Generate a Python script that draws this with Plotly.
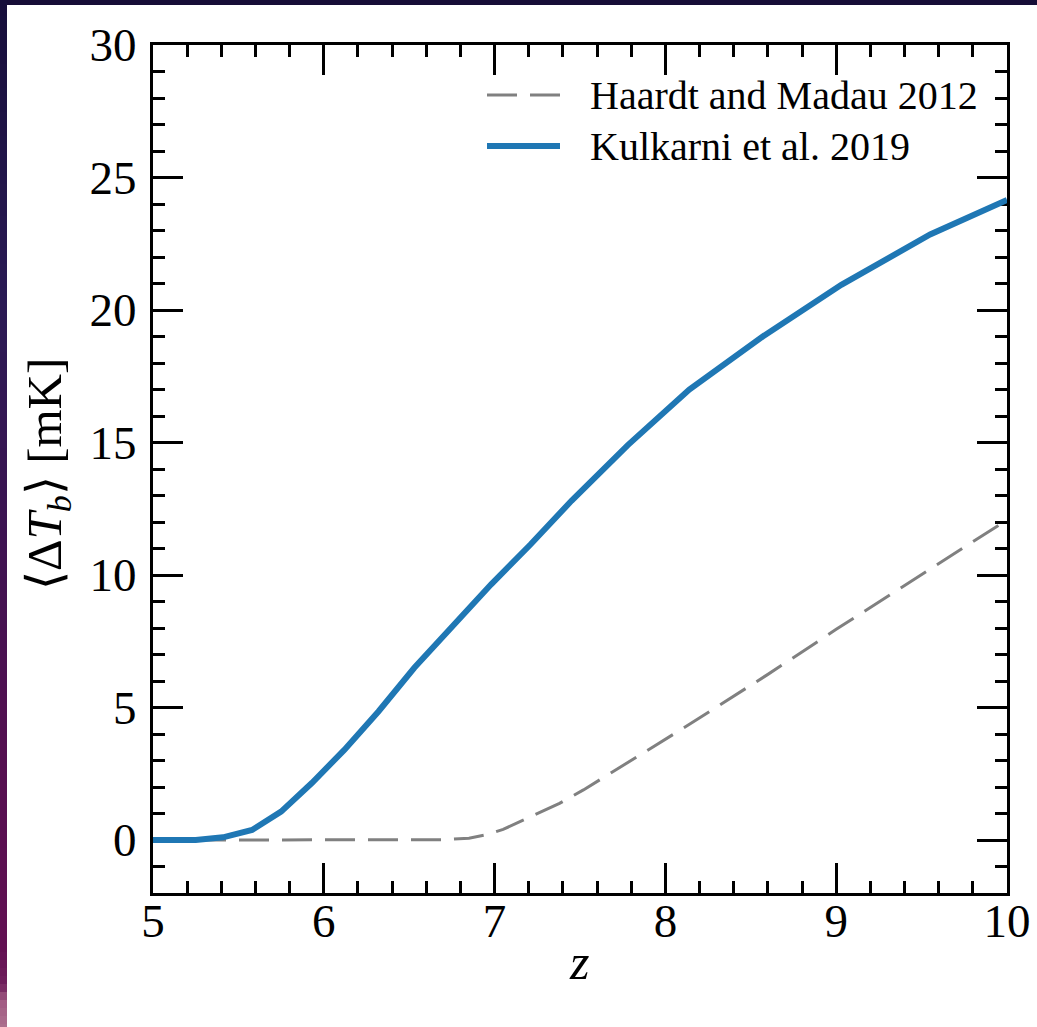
import plotly.graph_objects as go

# Mean 21-cm brightness temperature vs redshift for two UV background models
z_hm12 = [5.0, 5.5, 6.0, 6.5, 6.7, 6.85, 6.95, 7.05, 7.2, 7.38, 7.52, 7.7,
          7.9, 8.1, 8.32, 8.6, 9.0, 9.5, 10.0]
dtb_hm12 = [0.0, 0.0, 0.0, 0.0, 0.01, 0.07, 0.2, 0.4, 0.85, 1.38, 1.89, 2.6,
            3.4, 4.2, 5.1, 6.25, 7.95, 10.0, 12.08]

z_k19 = [5.0, 5.25, 5.41, 5.58, 5.75, 5.93, 6.12, 6.32, 6.53, 6.75, 6.98,
         7.21, 7.45, 7.78, 8.14, 8.57, 9.03, 9.55, 10.0]
dtb_k19 = [0.0, 0.0, 0.1, 0.38, 1.07, 2.15, 3.4, 4.85, 6.5, 8.05, 9.65,
           11.15, 12.8, 14.9, 17.0, 19.0, 20.95, 22.85, 24.15]

legend_labels = ["Haardt and Madau 2012", "Kulkarni et al. 2019"]
x_ticks = [5, 6, 7, 8, 9, 10]
y_ticks = [0, 5, 10, 15, 20, 25, 30]
x_title = "<i>z</i>"
y_title = "⟨Δ<i>T</i><sub><i>b</i></sub>⟩ [mK]"

BLUE = "#1f77b4"
GREY = "#808080"
SERIF = "Liberation Serif, Times New Roman, serif"

W, H = 1037, 1027
ML, MR, MT, MB = 153, 30, 45, 134
PW, PH = W - ML - MR, H - MT - MB


def px_x(px):
    return (px - ML) / PW


def px_y(py):
    return (H - MB - py) / PH


fig = go.Figure()
fig.add_trace(go.Scatter(x=z_hm12, y=dtb_hm12, mode="lines",
                         line=dict(color=GREY, width=3, dash="30px,13px"),
                         showlegend=False))
fig.add_trace(go.Scatter(x=z_k19, y=dtb_k19, mode="lines",
                         line=dict(color=BLUE, width=6),
                         showlegend=False))

shapes = []
# dark slide border: top band and a vertical gradient band on the left
shapes.append(dict(type="rect", xref="paper", yref="paper",
                   x0=px_x(0), x1=px_x(W), y0=px_y(5), y1=px_y(0),
                   fillcolor="rgb(22,13,55)", line=dict(width=0), layer="below"))
stops = [(0, (22, 14, 58)), (300, (42, 26, 84)), (500, (58, 20, 82)),
         (750, (84, 15, 80)), (950, (98, 16, 82)), (985, (112, 32, 92)),
         (1000, (160, 90, 130)), (1027, (172, 112, 142))]
step = 8
for y0 in range(0, H, step):
    y1 = min(H, y0 + step)
    ym = (y0 + y1) / 2
    for (a, ca), (b, cb) in zip(stops[:-1], stops[1:]):
        if a <= ym <= b:
            t = (ym - a) / (b - a)
            c = tuple(int(round(ca[i] + t * (cb[i] - ca[i]))) for i in range(3))
            break
    shapes.append(dict(type="rect", xref="paper", yref="paper",
                       x0=px_x(0), x1=px_x(7), y0=px_y(y1), y1=px_y(y0),
                       fillcolor="rgb(%d,%d,%d)" % c, line=dict(width=0),
                       layer="below"))

# legend samples
shapes.append(dict(type="line", xref="paper", yref="paper",
                   x0=px_x(487), x1=px_x(560), y0=px_y(95), y1=px_y(95),
                   line=dict(color=GREY, width=3, dash="30px,13px")))
shapes.append(dict(type="line", xref="paper", yref="paper",
                   x0=px_x(487), x1=px_x(560), y0=px_y(146), y1=px_y(146),
                   line=dict(color=BLUE, width=6)))

annotations = []
for label, py in zip(legend_labels, [95, 146]):
    annotations.append(dict(text=label, xref="paper", yref="paper",
                            x=px_x(588), y=px_y(py), xanchor="left",
                            yanchor="middle", showarrow=False,
                            font=dict(family=SERIF, size=40, color="black")))

# axis titles
annotations.append(dict(text=x_title, xref="paper", yref="paper",
                        x=px_x(579), y=px_y(962), xanchor="center",
                        yanchor="middle", showarrow=False,
                        font=dict(family=SERIF, size=50, color="black")))
annotations.append(dict(text=y_title, xref="paper", yref="paper",
                        x=px_x(47), y=px_y(474), xanchor="center",
                        yanchor="middle", showarrow=False, textangle=-90,
                        font=dict(family=SERIF, size=49, color="black")))

axis_common = dict(
    showline=True, linecolor="black", linewidth=3, mirror="allticks",
    ticks="inside", ticklen=30, tickwidth=3, tickcolor="black",
    showgrid=False, zeroline=False, automargin=False, layer="below traces",
    tickfont=dict(family=SERIF, size=47, color="black"),
)

fig.update_layout(
    width=W, height=H,
    margin=dict(l=ML, r=MR, t=MT, b=MB, autoexpand=False),
    paper_bgcolor="white", plot_bgcolor="white",
    shapes=shapes, annotations=annotations,
    xaxis=dict(range=[5, 10], tickvals=x_ticks,
               minor=dict(dtick=0.2, tick0=5, ticks="inside", ticklen=12,
                          tickwidth=3, tickcolor="black", showgrid=False),
               ticklabelstandoff=-15,
               **axis_common),
    yaxis=dict(range=[-2, 30], tickvals=y_ticks,
               minor=dict(dtick=1, tick0=0, ticks="inside", ticklen=12,
                          tickwidth=3, tickcolor="black", showgrid=False),
               ticklabelstandoff=4,
               **axis_common),
)

fig.write_html("out.html")
